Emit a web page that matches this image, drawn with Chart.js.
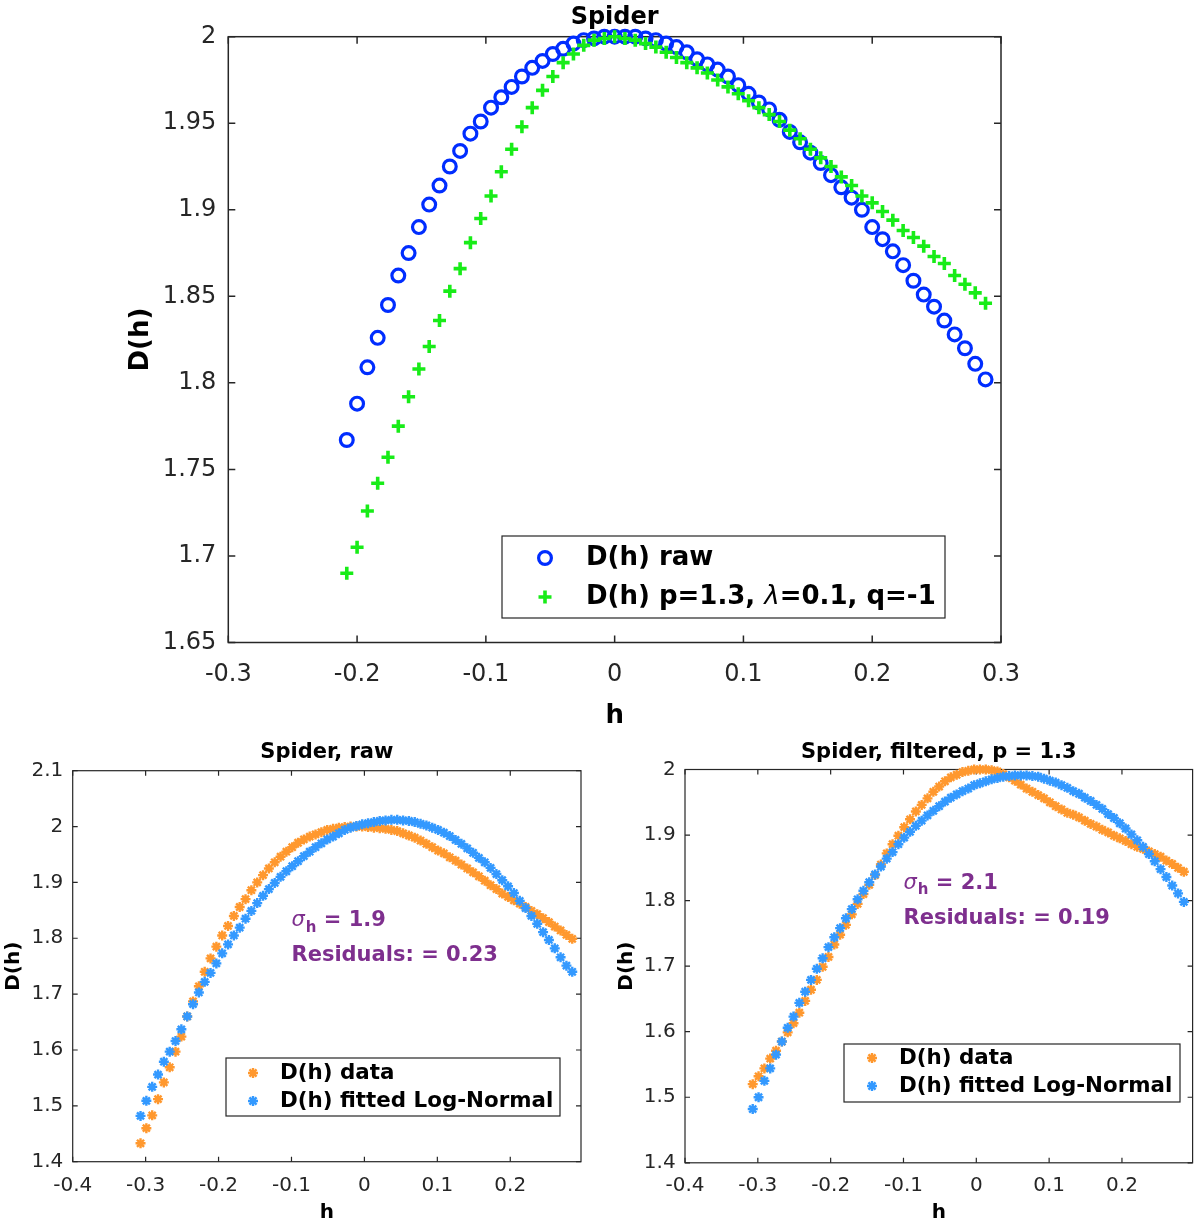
<!DOCTYPE html>
<html><head><meta charset="utf-8">
<script src="https://cdn.jsdelivr.net/npm/chart.js@4.4.1/dist/chart.umd.min.js"></script>
<style>
html,body{margin:0;padding:0;background:#fff;overflow:hidden;width:1200px;height:1224px;}
canvas{position:absolute;}
</style></head><body>
<canvas id="cTop" width="1200" height="736" style="left:0;top:0;width:1200px;height:736px"></canvas>
<canvas id="cRaw" width="600" height="486" style="left:0;top:740px;width:600px;height:486px"></canvas>
<canvas id="cFilt" width="600" height="486" style="left:600px;top:740px;width:600px;height:486px"></canvas>
<script>
// ---------- data ----------
const topH = [-0.208,-0.2,-0.192,-0.184,-0.176,-0.168,-0.16,-0.152,-0.144,-0.136,-0.128,-0.12,-0.112,-0.104,-0.096,-0.088,-0.08,-0.072,-0.064,-0.056,-0.048,-0.04,-0.032,-0.024,-0.016,-0.008,0,0.008,0.016,0.024,0.032,0.04,0.048,0.056,0.064,0.072,0.08,0.088,0.096,0.104,0.112,0.12,0.128,0.136,0.144,0.152,0.16,0.168,0.176,0.184,0.192,0.2,0.208,0.216,0.224,0.232,0.24,0.248,0.256,0.264,0.272,0.28,0.288];
const topRaw = [1.767,1.788,1.809,1.826,1.845,1.862,1.875,1.890,1.903,1.914,
  1.925,1.934,1.944,1.951,1.959,1.965,1.971,1.977,1.982,1.986,
  1.990,1.993,1.996,1.998,1.999,2.000,2.000,2.000,2.000,1.999,
  1.998,1.996,1.994,1.991,1.987,1.984,1.981,1.977,1.972,1.967,
  1.962,1.958,1.952,1.945,1.939,1.933,1.927,1.920,1.913,1.907,
  1.900,1.890,1.883,1.876,1.868,1.859,1.851,1.844,1.836,1.828,
  1.820,1.811,1.802];
const topFiltered = [1.690,1.705,1.726,1.742,1.757,1.775,1.792,1.808,1.821,1.836,
  1.853,1.866,1.881,1.895,1.908,1.922,1.935,1.948,1.959,1.969,
  1.977,1.985,1.990,1.995,1.998,1.999,2.000,1.999,1.998,1.996,
  1.994,1.991,1.988,1.985,1.982,1.979,1.975,1.971,1.967,1.963,
  1.959,1.955,1.951,1.946,1.941,1.935,1.930,1.925,1.919,1.914,
  1.908,1.904,1.899,1.894,1.888,1.884,1.879,1.873,1.869,1.862,
  1.857,1.852,1.846];

const botH = [-0.307,-0.299,-0.291,-0.283,-0.275,-0.267,-0.259,-0.251,-0.243,-0.235,-0.227,-0.219,-0.211,-0.203,-0.195,-0.187,-0.179,-0.171,-0.163,-0.155,-0.147,-0.139,-0.131,-0.123,-0.115,-0.107,-0.099,-0.091,-0.083,-0.075,-0.067,-0.059,-0.051,-0.043,-0.035,-0.027,-0.019,-0.011,-0.003,0.005,0.013,0.021,0.029,0.037,0.045,0.053,0.061,0.069,0.077,0.085,0.093,0.101,0.109,0.117,0.125,0.133,0.141,0.149,0.157,0.165,0.173,0.181,0.189,0.197,0.205,0.213,0.221,0.229,0.237,0.245,0.253,0.261,0.269,0.277,0.285];
const rawData = [1.433,1.460,1.483,1.512,1.542,1.569,1.597,1.624,1.660,1.687,
  1.714,1.740,1.764,1.785,1.805,1.822,1.840,1.856,1.870,1.886,
  1.900,1.913,1.925,1.936,1.946,1.955,1.963,1.971,1.977,1.982,
  1.986,1.990,1.994,1.996,1.998,1.999,2.000,2.000,2.000,1.999,
  1.998,1.997,1.996,1.994,1.992,1.988,1.984,1.980,1.975,1.969,
  1.963,1.957,1.952,1.945,1.939,1.932,1.925,1.918,1.911,1.903,
  1.895,1.888,1.880,1.874,1.868,1.862,1.856,1.849,1.843,1.836,
  1.829,1.821,1.814,1.806,1.799];
const rawFit = [1.482,1.509,1.534,1.556,1.579,1.597,1.616,1.637,1.660,1.682,
  1.703,1.722,1.738,1.755,1.773,1.789,1.805,1.819,1.835,1.849,
  1.863,1.876,1.888,1.899,1.910,1.920,1.929,1.938,1.947,1.955,
  1.963,1.970,1.977,1.982,1.988,1.994,1.998,2.001,2.004,2.006,
  2.008,2.010,2.011,2.012,2.012,2.011,2.010,2.008,2.005,2.002,
  1.998,1.994,1.989,1.983,1.976,1.969,1.961,1.953,1.944,1.936,
  1.926,1.915,1.904,1.893,1.881,1.867,1.854,1.840,1.826,1.811,
  1.797,1.782,1.766,1.751,1.740];
const filtData = [1.520,1.532,1.544,1.559,1.571,1.585,1.599,1.613,1.629,1.647,
  1.664,1.679,1.699,1.714,1.733,1.748,1.763,1.779,1.795,1.810,
  1.824,1.839,1.855,1.872,1.886,1.899,1.912,1.924,1.936,1.946,
  1.956,1.966,1.974,1.982,1.988,1.992,1.996,1.998,2.000,2.000,
  2.000,1.999,1.997,1.993,1.988,1.983,1.977,1.971,1.966,1.961,
  1.956,1.950,1.944,1.939,1.934,1.931,1.927,1.922,1.917,1.913,
  1.908,1.904,1.899,1.895,1.891,1.886,1.882,1.879,1.875,1.871,
  1.867,1.861,1.856,1.850,1.844];
const filtFit = [1.482,1.500,1.525,1.544,1.565,1.585,1.606,1.623,1.644,1.661,
  1.679,1.696,1.712,1.729,1.744,1.758,1.773,1.787,1.802,1.815,
  1.828,1.840,1.852,1.864,1.874,1.886,1.896,1.905,1.914,1.922,
  1.930,1.937,1.944,1.951,1.957,1.962,1.967,1.971,1.976,1.979,
  1.982,1.985,1.987,1.989,1.990,1.991,1.991,1.991,1.990,1.989,
  1.986,1.983,1.980,1.976,1.972,1.967,1.963,1.957,1.952,1.946,
  1.940,1.932,1.926,1.918,1.910,1.901,1.892,1.882,1.871,1.860,
  1.848,1.836,1.823,1.811,1.798];

const topXTicks = [-0.3,-0.2,-0.1,0,0.1,0.2,0.3];
const topYTicks = [1.65,1.7,1.75,1.8,1.85,1.9,1.95,2];
const botXTicks = [-0.4,-0.3,-0.2,-0.1,0,0.1,0.2];
const rawYTicks = [1.4,1.5,1.6,1.7,1.8,1.9,2,2.1];
const filtYTicks = [1.4,1.5,1.6,1.7,1.8,1.9,2];

const rawSigma = '1.9', rawResid = '0.23';
const filtSigma = '2.1', filtResid = '0.19';

// ---------- styling / overlays ----------
const BLUE = 'rgb(0,45,255)', GREEN = 'rgb(24,236,24)';
const ORANGE = '#ff982e', SKY = '#3399ff', PURPLE = '#7e2f8e';
const AXC = '#262626';
const FF = '"DejaVu Sans", Verdana, sans-serif';

const overlays = {
  cTop: { tickLen: 7, frameW: 1.5,
    legend: { x: 502, y: 536, w: 443, h: 82, markerX: 545, textX: 586, rows: [558, 597],
      font: 'bold 26px ' + FF, special: 'italic 26px ' + FF } },
  cRaw: { tickLen: 5, frameW: 1.2,
    legend: { x: 226, y: 318, w: 334, h: 58, markerX: 253, textX: 280, rows: [333, 361],
      font: 'bold 21.4px ' + FF },
    annot: { x: -0.1, y: 1.8, gap: 35, sigma: rawSigma, resid: rawResid } },
  cFilt: { tickLen: 5, frameW: 1.2,
    legend: { x: 244, y: 304, w: 336, h: 58, markerX: 272, textX: 299, rows: [318, 346],
      font: 'bold 21.4px ' + FF },
    annot: { x: -0.1, y: 1.8, gap: 35, sigma: filtSigma, resid: filtResid } }
};

function drawMarker(ctx, style, x, y, r, bw, color) {
  ctx.save();
  ctx.strokeStyle = color; ctx.lineWidth = bw; ctx.lineCap = 'butt';
  ctx.beginPath();
  if (style === 'circle') {
    ctx.arc(x, y, r, 0, Math.PI * 2);
  } else if (style === 'cross') {
    ctx.moveTo(x - r, y); ctx.lineTo(x + r, y);
    ctx.moveTo(x, y - r); ctx.lineTo(x, y + r);
  } else {
    const d = r * Math.SQRT1_2;
    ctx.moveTo(x - r, y); ctx.lineTo(x + r, y);
    ctx.moveTo(x, y - r); ctx.lineTo(x, y + r);
    ctx.moveTo(x - d, y - d); ctx.lineTo(x + d, y + d);
    ctx.moveTo(x - d, y + d); ctx.lineTo(x + d, y - d);
  }
  ctx.stroke();
  ctx.restore();
}

const frameTicks = {
  id: 'frameTicks',
  beforeDatasetsDraw(chart) {
    const o = overlays[chart.canvas.id]; const a = chart.chartArea;
    const ctx = chart.ctx, xs = chart.scales.x, ys = chart.scales.y, L = o.tickLen;
    ctx.save();
    ctx.strokeStyle = AXC; ctx.lineWidth = o.frameW;
    ctx.strokeRect(a.left, a.top, a.right - a.left, a.bottom - a.top);
    ctx.beginPath();
    xs.ticks.forEach(t => { const p = xs.getPixelForValue(t.value);
      ctx.moveTo(p, a.bottom); ctx.lineTo(p, a.bottom - L);
      ctx.moveTo(p, a.top); ctx.lineTo(p, a.top + L); });
    ys.ticks.forEach(t => { const p = ys.getPixelForValue(t.value);
      ctx.moveTo(a.left, p); ctx.lineTo(a.left + L, p);
      ctx.moveTo(a.right, p); ctx.lineTo(a.right - L, p); });
    ctx.stroke();
    ctx.restore();
  }
};

const boxLegend = {
  id: 'boxLegend',
  afterDatasetsDraw(chart) {
    const o = overlays[chart.canvas.id].legend; const ctx = chart.ctx;
    ctx.save();
    ctx.fillStyle = '#fff'; ctx.fillRect(o.x, o.y, o.w, o.h);
    ctx.strokeStyle = AXC; ctx.lineWidth = 1.2; ctx.strokeRect(o.x, o.y, o.w, o.h);
    chart.data.datasets.forEach((ds, i) => {
      const cy = o.rows[i];
      drawMarker(ctx, ds.pointStyle, o.markerX, cy, ds.pointRadius, ds.pointBorderWidth, ds.borderColor);
      ctx.fillStyle = '#000'; ctx.textBaseline = 'middle'; ctx.textAlign = 'left';
      let x = o.textX;
      const parts = ds.label.split('λ');
      parts.forEach((p, j) => {
        ctx.font = o.font; ctx.fillText(p, x, cy); x += ctx.measureText(p).width;
        if (j < parts.length - 1) { ctx.font = o.special; ctx.fillText('λ', x, cy); x += ctx.measureText('λ').width; }
      });
    });
    ctx.restore();
  }
};

const annot = {
  id: 'annot',
  afterDatasetsDraw(chart) {
    const o = overlays[chart.canvas.id].annot; if (!o) return;
    const ctx = chart.ctx;
    const x0 = chart.scales.x.getPixelForValue(o.x), y0 = chart.scales.y.getPixelForValue(o.y);
    ctx.save();
    ctx.fillStyle = PURPLE; ctx.textBaseline = 'middle'; ctx.textAlign = 'left';
    let x = x0, y = y0 - o.gap / 2;
    ctx.font = 'italic 21px ' + FF; ctx.fillText('σ', x, y); x += ctx.measureText('σ').width + 1;
    ctx.font = 'bold 15px ' + FF; ctx.fillText('h', x, y + 7); x += ctx.measureText('h').width;
    ctx.font = 'bold 21px ' + FF; ctx.fillText(' = ' + o.sigma, x, y);
    ctx.fillText('Residuals: = ' + o.resid, x0, y0 + o.gap / 2);
    ctx.restore();
  }
};

const fmt = v => String(Math.round(v * 100) / 100);
const pts = (xs, ys) => xs.map((h, i) => ({ x: h, y: ys[i] }));

function axis(min, max, tickArr, opt) {
  return {
    type: 'linear', position: opt.position, min: min, max: max,
    afterBuildTicks: s => { s.ticks = tickArr.map(v => ({ value: v })); },
    afterFit: s => {
      if (opt.position === 'bottom') s.height = opt.size; else s.width = opt.size;
      s.paddingLeft = 0; s.paddingRight = 0; s.paddingTop = 0; s.paddingBottom = 0;
    },
    grid: { display: false, drawTicks: false },
    border: { display: false },
    ticks: { font: { family: FF, size: opt.tickSize }, color: AXC, padding: opt.tickPad,
      maxRotation: 0, minRotation: 0, autoSkip: false, callback: v => fmt(v) },
    title: { display: true, text: opt.title, color: '#000',
      font: { family: FF, size: opt.titleSize, weight: 'bold' }, padding: opt.titlePad }
  };
}

function baseOptions(o) {
  return {
    responsive: false, animation: false, events: [],
    layout: { padding: o.padding },
    plugins: {
      legend: { display: false }, tooltip: { enabled: false },
      title: { display: true, text: o.title, fullSize: false, color: '#000',
        font: { family: FF, size: o.titleSize, weight: 'bold' }, padding: o.titlePad }
    },
    scales: { x: o.x, y: o.y }
  };
}

// ---------- top chart ----------
new Chart(document.getElementById('cTop'), {
  type: 'scatter',
  data: { datasets: [
    { label: 'D(h) raw', data: pts(topH, topRaw), pointStyle: 'circle', pointRadius: 6.4,
      pointBorderWidth: 3.2, borderColor: BLUE, backgroundColor: 'rgba(0,0,0,0)', order: 1, clip: false },
    { label: 'D(h) p=1.3, λ=0.1, q=-1', data: pts(topH, topFiltered), pointStyle: 'cross', pointRadius: 6.5,
      pointBorderWidth: 3.6, borderColor: GREEN, backgroundColor: GREEN, order: 0, clip: false }
  ]},
  options: baseOptions({
    padding: { left: 121.4, right: 199, top: 0, bottom: 0 },
    title: 'Spider', titleSize: 24, titlePad: { top: 3.6, bottom: 4.3 },
    x: axis(-0.3, 0.3, topXTicks, { position: 'bottom', size: 93.5, tickSize: 24, tickPad: 18,
      title: 'h', titleSize: 26, titlePad: { top: 0, bottom: 4.4 } }),
    y: axis(1.65, 2, topYTicks, { position: 'left', size: 106.9, tickSize: 24, tickPad: 12,
      title: 'D(h)', titleSize: 26, titlePad: { top: 4, bottom: 0 } })
  }),
  plugins: [frameTicks, boxLegend]
});

// ---------- bottom-left ----------
new Chart(document.getElementById('cRaw'), {
  type: 'scatter',
  data: { datasets: [
    { label: 'D(h) data', data: pts(botH, rawData), pointStyle: 'star', pointRadius: 5,
      pointBorderWidth: 2.4, borderColor: ORANGE, backgroundColor: ORANGE, order: 1, clip: false },
    { label: 'D(h) fitted Log-Normal', data: pts(botH, rawFit), pointStyle: 'star', pointRadius: 5,
      pointBorderWidth: 2.4, borderColor: SKY, backgroundColor: SKY, order: 0, clip: false }
  ]},
  options: baseOptions({
    padding: { left: 0, right: 19, top: 0, bottom: 0 },
    title: 'Spider, raw', titleSize: 21, titlePad: { top: 0.4, bottom: 5.1 },
    x: axis(-0.4, 0.297, botXTicks, { position: 'bottom', size: 64.3, tickSize: 20, tickPad: 12,
      title: 'h', titleSize: 20, titlePad: { top: 0, bottom: 1 } }),
    y: axis(1.4, 2.1, rawYTicks, { position: 'left', size: 72.7, tickSize: 20, tickPad: 9.4,
      title: 'D(h)', titleSize: 20, titlePad: { top: 1.4, bottom: 0 } })
  }),
  plugins: [frameTicks, annot, boxLegend]
});

// ---------- bottom-right ----------
new Chart(document.getElementById('cFilt'), {
  type: 'scatter',
  data: { datasets: [
    { label: 'D(h) data', data: pts(botH, filtData), pointStyle: 'star', pointRadius: 5,
      pointBorderWidth: 2.4, borderColor: ORANGE, backgroundColor: ORANGE, order: 1, clip: false },
    { label: 'D(h) fitted Log-Normal', data: pts(botH, filtFit), pointStyle: 'star', pointRadius: 5,
      pointBorderWidth: 2.4, borderColor: SKY, backgroundColor: SKY, order: 0, clip: false }
  ]},
  options: baseOptions({
    padding: { left: 13.6, right: 3, top: 0, bottom: 0 },
    title: 'Spider, filtered, p = 1.3', titleSize: 21, titlePad: { top: 0.4, bottom: 3.9 },
    x: axis(-0.4, 0.297, botXTicks, { position: 'bottom', size: 63.2, tickSize: 20, tickPad: 11.2,
      title: 'h', titleSize: 20, titlePad: { top: 0, bottom: 1 } }),
    y: axis(1.4, 2.0, filtYTicks, { position: 'left', size: 71.4, tickSize: 20, tickPad: 9.4,
      title: 'D(h)', titleSize: 20, titlePad: { top: 1.4, bottom: 0 } })
  }),
  plugins: [frameTicks, annot, boxLegend]
});
</script>
</body></html>
